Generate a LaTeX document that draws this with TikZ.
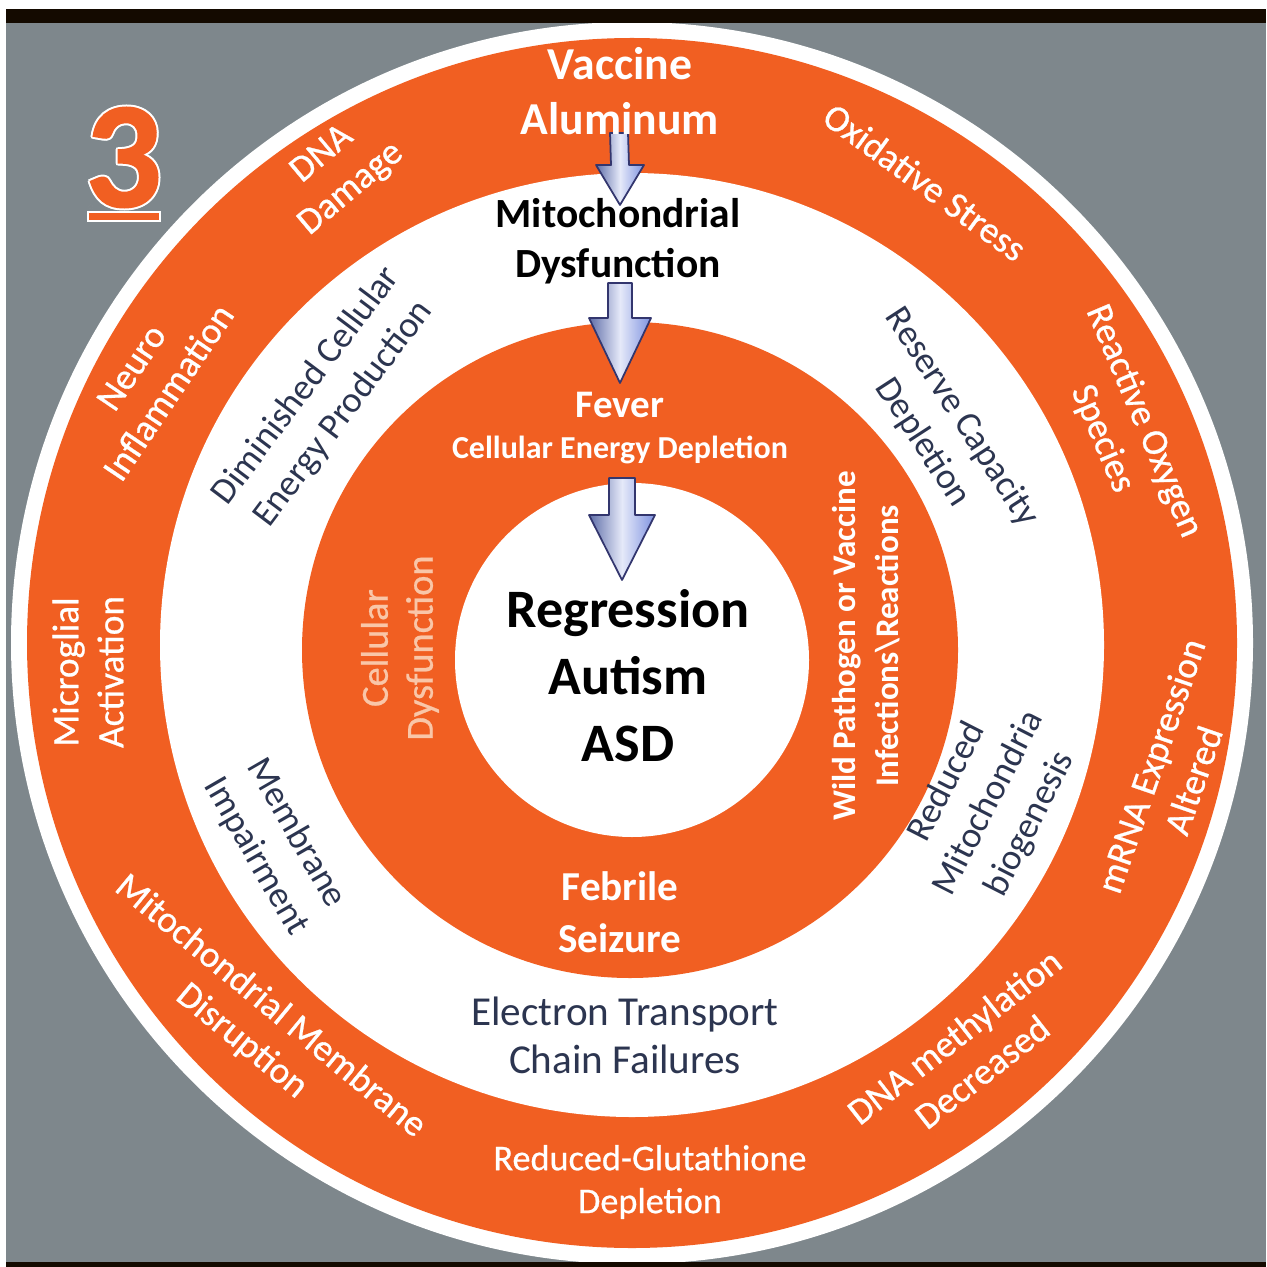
\documentclass[tikz,border=0pt]{standalone}
\usepackage{fontspec}
\setmainfont{Carlito}
\newfontfamily\medfont{Carlito}[FakeBold=0.7]
\newfontfamily\heavyfont{Carlito}[BoldFeatures={FakeBold=1.2}]
\usepackage{tikz}
\usetikzlibrary{calc}
\definecolor{porange}{HTML}{F15F22}
\definecolor{pgrey}{HTML}{7E878C}
\definecolor{pnavy}{HTML}{2C3550}
\definecolor{ppeach}{HTML}{F9C6A8}
\definecolor{pblue}{HTML}{7E92E0}
\definecolor{pshade}{HTML}{33366E}

% block arrow: tail, tip, half shaft, half head, head length
\newcommand{\blockarrow}[5]{%
  \path[barrow] ($(#1)+(-#3,0)$) -- ($(#2)+(-#3,-#5)$) -- ($(#2)+(-#4,-#5)$) -- (#2)
    -- ($(#2)+(#4,-#5)$) -- ($(#2)+(#3,-#5)$) -- ($(#1)+(#3,0)$) -- cycle;}

\begin{document}
\begin{tikzpicture}[x=0.01cm,y=-0.01cm,
  ot/.style={text=white,align=center,inner sep=0pt,font=\fontsize{10.6}{12.8}\medfont},
  wt/.style={text=pnavy,align=center,inner sep=0pt,font=\fontsize{10.4}{13.2}\selectfont},
  mt/.style={text=white,align=center,inner sep=0pt},
  bk/.style={text=black,align=center,inner sep=0pt},
  three/.style={inner sep=0pt,font=\fontsize{43}{43}\heavyfont\bfseries},
  barrow/.style={draw=pshade,line width=0.5pt,line join=round,
                 left color=pblue!75!black,right color=pblue,middle color=white!80!pblue}]
\useasboundingbox (0,0) rectangle (1266,1267);

% panel
\fill[pgrey] (6,23) rectangle (1266,1262);

% rings
\fill[white]   (632,643) circle[radius=621];
\fill[porange] (632,643) circle[radius=605];
\fill[white]   (632,645) circle[radius=472];
\fill[porange] (630,650) circle[radius=328];
\fill[white]   (632,660) circle[radius=177];

% arrows down the middle
\coordinate (vacTail) at (619,133);
\coordinate (vacTip)  at (620,205);
\coordinate (mitTail) at (620,283);
\coordinate (mitTip)  at (620,383);
\coordinate (fevTail) at (622,478);
\coordinate (fevTip)  at (622,580);
\blockarrow{vacTail}{vacTip}{9}{24}{40}
\blockarrow{mitTail}{mitTip}{12}{31}{65}
\blockarrow{fevTail}{fevTip}{13}{33}{65}

% outer ring
\node[ot,font=\fontsize{13}{15.6}\selectfont\bfseries] (vac) at (620,91) {Vaccine\\Aluminum};
\node[ot,rotate=40]    (dna)  at (337,172)  {DNA\\Damage};
\node[ot,rotate=-36]   (oxi)  at (925,182)  {Oxidative Stress};
\node[ot,rotate=-67]   (ros)  at (1123,430) {Reactive Oxygen\\Species};
\node[ot,rotate=56]    (neu)  at (150,380)  {Neuro\\Inflammation};
\node[ot,rotate=90]    (mic)  at (88,672)   {Microglial\\Activation};
\node[ot,rotate=71]    (mrna) at (1172,773) {mRNA Expression\\Altered};
\node[ot,rotate=-39.5] (mmd)  at (256,1024) {Mitochondrial Membrane\\Disruption};
\node[ot,font=\fontsize{10.3}{12.2}\medfont] (glu) at (650,1182) {Reduced-Glutathione\\Depletion};
\node[ot,rotate=38]    (meth) at (968,1054) {DNA methylation\\Decreased};

% white ring
\node[bk,font=\fontsize{11.8}{14.2}\selectfont\bfseries] (mito) at (618,241) {Mitochondrial\\Dysfunction};
\node[wt,rotate=53]  (dim) at (325,400) {Diminished Cellular\\Energy Production};
\node[wt,rotate=-57] (res) at (942,430) {Reserve Capacity\\Depletion};
\node[wt,rotate=-60] (mem) at (276,845) {Membrane\\Impairment};
\node[wt,rotate=63]  (bio) at (989,803) {Reduced\\Mitochondria\\biogenesis};
\node[wt,font=\fontsize{11.7}{13.7}\selectfont] (etc) at (625,1035) {Electron Transport\\Chain Failures};

% middle ring
\node[mt,font=\fontsize{11.1}{13}\selectfont\bfseries] (fev) at (620,405) {Fever};
\node[mt,font=\fontsize{9.1}{11}\selectfont\bfseries]  (ced) at (620,450) {Cellular Energy Depletion};
\node[mt,text=ppeach,rotate=90,font=\fontsize{10.9}{12.8}\medfont] (cdys) at (400,648) {Cellular\\Dysfunction};
\node[mt,rotate=90,font=\fontsize{9.4}{12.2}\selectfont\bfseries] (wild) at (866,646)
  {Wild Pathogen or Vaccine\\Infections\textbackslash Reactions};
\node[mt,font=\fontsize{11.7}{14.8}\selectfont\bfseries] (feb) at (620,912) {Febrile\\Seizure};

% centre
\node[bk,font=\fontsize{15.4}{19.1}\selectfont\bfseries] (asd) at (628,676) {Regression\\Autism\\ASD};

% top and bottom bars
\fill[black!92!orange] (6,9) rectangle (1266,23);
\fill[black!92!orange] (6,1262) rectangle (1266,1267);

% slide number
\foreach \dx/\dy [count=\k] in {-2/0,2/0,0/-2,0/2,-1.5/-1.5,1.5/1.5,-1.5/1.5,1.5/-1.5}
  \node[three,text=white] (halo\k) at ({123.5+(\dx)},{157.5+(\dy)}) {3};
\node[three,text=porange] (three) at (123.5,157.5) {3};
\filldraw[fill=porange,draw=white,line width=0.6pt] (88,212) rectangle (160,221);
\end{tikzpicture}
\end{document}
